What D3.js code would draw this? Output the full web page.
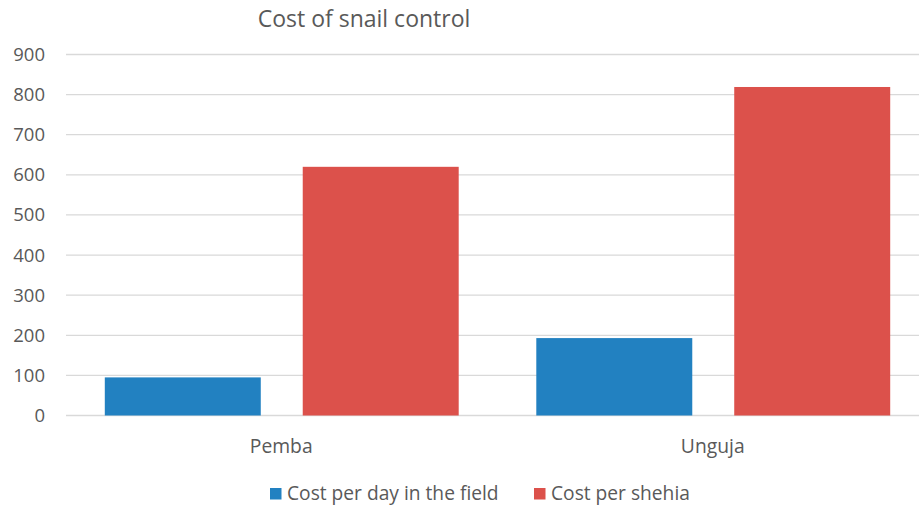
<!DOCTYPE html>
<html>
<head>
<meta charset="utf-8">
<script src="https://cdn.jsdelivr.net/npm/d3@7"></script>
<style>
  body { margin: 0; background: #fff; }
  svg text { font-family: "Open Sans", "Noto Sans", sans-serif; fill: #595959; }
</style>
</head>
<body>
<svg id="chart" width="919" height="506"></svg>
<script>
// data
var regions = ["Pemba", "Unguja"];
var seriesNames = ["Cost per day in the field", "Cost per shehia"];
var costPerDay = [95, 193];
var costPerShehia = [620, 819];
var yTicks = [0, 100, 200, 300, 400, 500, 600, 700, 800, 900];

var colors = ["#2281c1", "#dc514b"];

var svg = d3.select("#chart");
var W = 919, H = 506;

// rows for the join
var rows = regions.map((r, i) => ({ region: r, vals: [costPerDay[i], costPerShehia[i]] }));

// scales (plot runs past the right edge, like the cropped original)
var x0 = d3.scaleBand().domain(regions).range([66, 929]).paddingInner(0).paddingOuter(0);
var x1 = d3.scaleBand().domain([0, 1]).range([0, x0.bandwidth()])
    .paddingInner(0.212).paddingOuter(0.196);
var y = d3.scaleLinear().domain([0, 900]).range([415.5, 54.5]);

// gridlines
svg.append("g").selectAll("line")
    .data(yTicks)
    .join("line")
    .attr("x1", 66).attr("x2", W)
    .attr("y1", d => y(d)).attr("y2", d => y(d))
    .attr("stroke", "#d9d9d9").attr("stroke-width", 1.3);

// y labels
svg.append("g").selectAll("text")
    .data(yTicks)
    .join("text")
    .attr("x", 45).attr("y", d => y(d))
    .attr("dy", "0.35em")
    .attr("text-anchor", "end")
    .attr("font-size", 18.5)
    .text(d => d);

// bars
svg.append("g").selectAll("g")
    .data(rows)
    .join("g")
    .attr("transform", d => "translate(" + x0(d.region) + ",0)")
    .selectAll("rect")
    .data(d => d.vals.map((v, k) => ({ k: k, v: v })))
    .join("rect")
    .attr("x", d => x1(d.k))
    .attr("width", x1.bandwidth())
    .attr("y", d => y(d.v))
    .attr("height", d => y(0) - y(d.v))
    .attr("fill", d => colors[d.k]);

// category labels
svg.append("g").selectAll("text")
    .data(regions)
    .join("text")
    .attr("x", d => x0(d) + x0.bandwidth() / 2 - 0.5)
    .attr("y", 453)
    .attr("text-anchor", "middle")
    .attr("font-size", 19.3)
    .text(d => d);

// title
svg.append("text")
    .attr("x", 364).attr("y", 27)
    .attr("text-anchor", "middle")
    .attr("font-size", 23)
    .text("Cost of snail control");

// legend
var legendX = [270, 534];
var lg = svg.append("g").selectAll("g")
    .data(seriesNames)
    .join("g")
    .attr("transform", (d, i) => "translate(" + legendX[i] + ",488)");
lg.append("rect").attr("width", 11.5).attr("height", 11.5)
    .attr("fill", (d, i) => colors[i]);
lg.append("text").attr("x", 17).attr("y", 12)
    .attr("font-size", 19.2)
    .text(d => d);
</script>
</body>
</html>
